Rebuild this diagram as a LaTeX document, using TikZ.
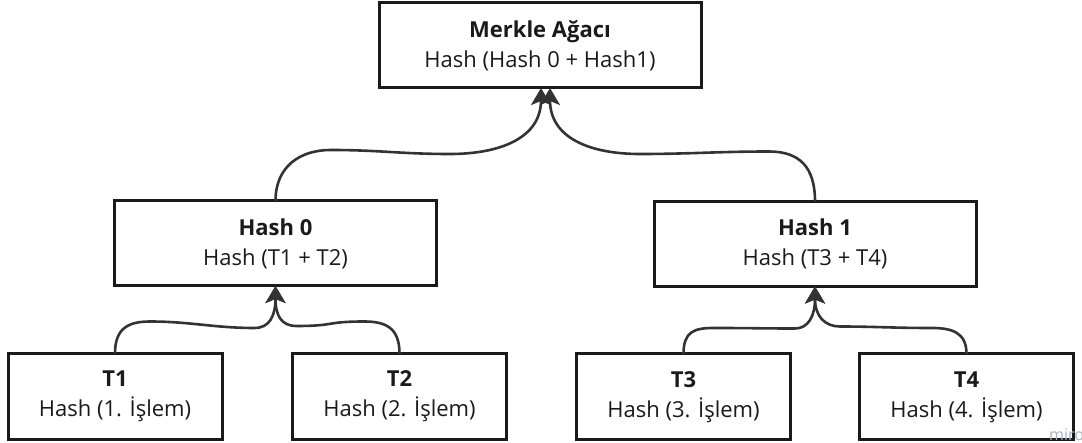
\documentclass[tikz,border=0pt]{standalone}
\usepackage{fontspec}
\setmainfont{Open Sans}
\usetikzlibrary{arrows.meta,calc}
\definecolor{ink}{HTML}{1A1A1A}
\definecolor{wire}{HTML}{333333}
\definecolor{mark}{HTML}{AAB2C0}

\begin{document}
\begin{tikzpicture}[x=1pt,y=-1pt,
  box/.style={draw=ink, line width=3pt, fill=white, inner sep=0pt, outer sep=0pt,
              align=center, text=ink, font=\fontsize{22}{30}\selectfont},
  wide/.style={box, minimum width=322pt, minimum height=85pt},
  leaf/.style={box, minimum width=214pt, minimum height=86pt},
  conn/.style={draw=wire, line width=2.6pt,
               -{Stealth[length=17pt,width=20pt,inset=4pt]}}]
\useasboundingbox (0,0) rectangle (1082,443);

% tree levels
\node[wide] (m)  at (540,45.5)  {\textbf{Merkle Ağacı}\\Hash (Hash 0 + Hash1)};
\node[wide] (h0) at (275.5,243.5) {\textbf{Hash 0}\\Hash (T1 + T2)};
\node[wide] (h1) at (815,244)   {\textbf{Hash 1}\\Hash (T3 + T4)};
\node[leaf] (t1) at (115,396.5)   {\textbf{T1}\\Hash (1. İşlem)};
\node[leaf] (t2) at (399.5,396.5) {\textbf{T2}\\Hash (2. İşlem)};
\node[leaf] (t3) at (683.5,397)   {\textbf{T3}\\Hash (3. İşlem)};
\node[leaf] (t4) at (966.5,397)   {\textbf{T4}\\Hash (4. İşlem)};

% leaves into Hash 0 / Hash 1
\draw[conn] (t1.north) .. controls +(0,-25) and +(-22,0) .. ++(35,-32)
  .. controls +(40,0) and +(-40,0) .. ($(h0.south)+(-21,42)$)
  .. controls +(15,0) and +(0,30) .. (h0.south);
\draw[conn] (t2.north) .. controls +(0,-25) and +(22,0) .. ++(-35,-32)
  .. controls +(-40,0) and +(40,0) .. ($(h0.south)+(21,40)$)
  .. controls +(-15,0) and +(0,30) .. (h0.south);
\draw[conn] (t3.north) .. controls +(0,-22) and +(-20,0) .. ++(30,-26)
  .. controls +(40,0) and +(-35,0) .. ($(h1.south)+(-20,42)$)
  .. controls +(13,0) and +(0,30) .. (h1.south);
\draw[conn] (t4.north) .. controls +(0,-22) and +(20,0) .. ++(-35,-26)
  .. controls +(-40,0) and +(35,0) .. ($(h1.south)+(25,40)$)
  .. controls +(-15,0) and +(0,30) .. (h1.south);

% Hash 0 / Hash 1 into the root
\draw[conn] (h0.north) .. controls +(0,-35) and +(-30,0) .. ++(55,-51)
  .. controls +(50,0) and +(-50,0) .. ($(m.south)+(-90,66)$)
  .. controls +(50,0) and +(0,50) .. ($(m.south)+(1,0)$);
\draw[conn] (h1.north) .. controls +(0,-35) and +(30,0) .. ++(-46,-50)
  .. controls +(-50,0) and +(50,0) .. ($(m.south)+(100,66)$)
  .. controls +(-50,0) and +(0,50) .. ($(m.south)+(10,0)$);

% board watermark
\node[anchor=base west, inner sep=0pt, text=mark, font=\fontsize{16}{16}\selectfont] (wm) at (1049,441) {miro};
\end{tikzpicture}
\end{document}
